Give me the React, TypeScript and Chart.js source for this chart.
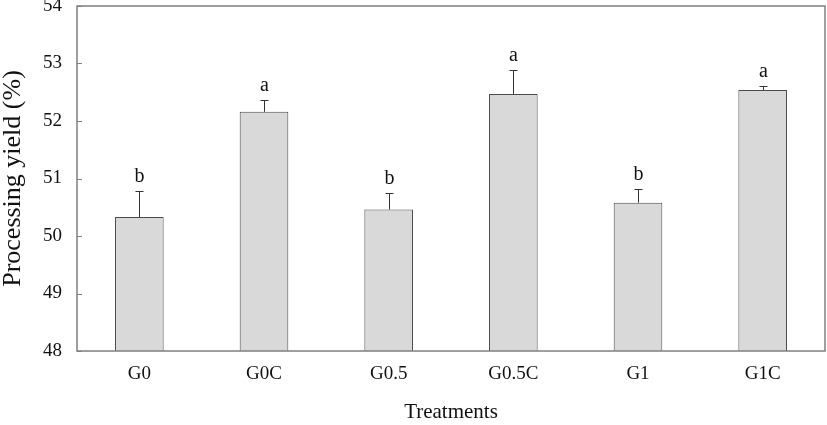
import React, { useEffect, useRef } from "react";
import { Chart, registerables } from "chart.js";

Chart.register(...registerables);

const categories = ["G0", "G0C", "G0.5", "G0.5C", "G1", "G1C"];
const means = [50.33, 52.16, 50.46, 52.47, 50.58, 52.54];
const errors = [0.45, 0.2, 0.29, 0.41, 0.24, 0.07];
const letters = ["b", "a", "b", "a", "b", "a"];
const yTicks = [48, 49, 50, 51, 52, 53, 54];

const FONT = "'Liberation Serif', 'Times New Roman', serif";
const AXIS = "#7f7f7f";

const overlay = {
  id: "overlay",
  afterDatasetsDraw(chart: any) {
    const { ctx, chartArea, scales } = chart;
    const x = scales.x;
    const y = scales.y;
    ctx.save();
    // frame
    ctx.strokeStyle = AXIS;
    ctx.lineWidth = 1.5;
    ctx.strokeRect(chartArea.left, chartArea.top, chartArea.right - chartArea.left, chartArea.bottom - chartArea.top);
    // inward ticks on y
    ctx.lineWidth = 1;
    yTicks.forEach((t) => {
      const py = Math.round(y.getPixelForValue(t)) + 0.5;
      ctx.beginPath();
      ctx.moveTo(chartArea.left, py);
      ctx.lineTo(chartArea.left + 5, py);
      ctx.stroke();
    });
    // error bars + letters
    ctx.strokeStyle = "#333";
    ctx.lineWidth = 1;
    ctx.fillStyle = "#111";
    ctx.font = `20px ${FONT}`;
    ctx.textAlign = "center";
    ctx.textBaseline = "alphabetic";
    means.forEach((m, i) => {
      const px = Math.round(x.getPixelForValue(i)) + 0.5;
      const top = y.getPixelForValue(m);
      const cap = Math.round(y.getPixelForValue(m + errors[i])) + 0.5;
      ctx.beginPath();
      ctx.moveTo(px, top);
      ctx.lineTo(px, cap);
      ctx.moveTo(px - 4, cap);
      ctx.lineTo(px + 4, cap);
      ctx.stroke();
      ctx.fillText(letters[i], px, cap - 10);
    });
    ctx.restore();
  },
};

export default function App() {
  const ref = useRef<HTMLCanvasElement | null>(null);
  useEffect(() => {
    if (!ref.current) return;
    const chart = new Chart(ref.current, {
      type: "bar",
      data: {
        labels: categories,
        datasets: [
          {
            data: means,
            backgroundColor: "#d9d9d9",
            borderColor: "#4a4a4a",
            borderWidth: 1,
            barPercentage: 0.39,
            categoryPercentage: 1,
          },
        ],
      },
      options: {
        animation: false,
        responsive: false,
        maintainAspectRatio: false,
        layout: { padding: { top: 6, right: 2, bottom: 0, left: 0 } },
        plugins: { legend: { display: false }, tooltip: { enabled: false } },
        scales: {
          x: {
            grid: { display: false, drawTicks: false },
            border: { display: false },
            ticks: { color: "#111", font: { family: FONT, size: 19 }, padding: 12 },
            title: {
              display: true,
              text: "Treatments",
              color: "#111",
              font: { family: FONT, size: 21 },
              padding: { top: 0, bottom: 0 },
            },
            afterFit(scale: any) {
              scale.height = 74;
              scale.paddingLeft = 0;
              scale.paddingRight = 0;
            },
          },
          y: {
            min: 48,
            max: 54,
            grid: { display: false, drawTicks: false },
            border: { display: false },
            afterBuildTicks(scale: any) {
              scale.ticks = yTicks.map((v) => ({ value: v }));
            },
            ticks: { color: "#111", font: { family: FONT, size: 19 }, padding: 15 },
            title: {
              display: true,
              text: "Processing yield (%)",
              color: "#111",
              font: { family: FONT, size: 26, lineHeight: 1 },
              padding: { top: 0, bottom: 0 },
            },
            afterFit(scale: any) {
              scale.width = 77;
              scale.paddingTop = 0;
              scale.paddingBottom = 0;
            },
          },
        },
      },
      plugins: [overlay],
    });
    return () => chart.destroy();
  }, []);
  return (
    <div style={{ position: "fixed", left: 0, top: 0, width: 827, height: 425, background: "#fff" }}>
      <canvas ref={ref} width={827} height={425} style={{ width: 827, height: 425, display: "block" }} />
    </div>
  );
}
